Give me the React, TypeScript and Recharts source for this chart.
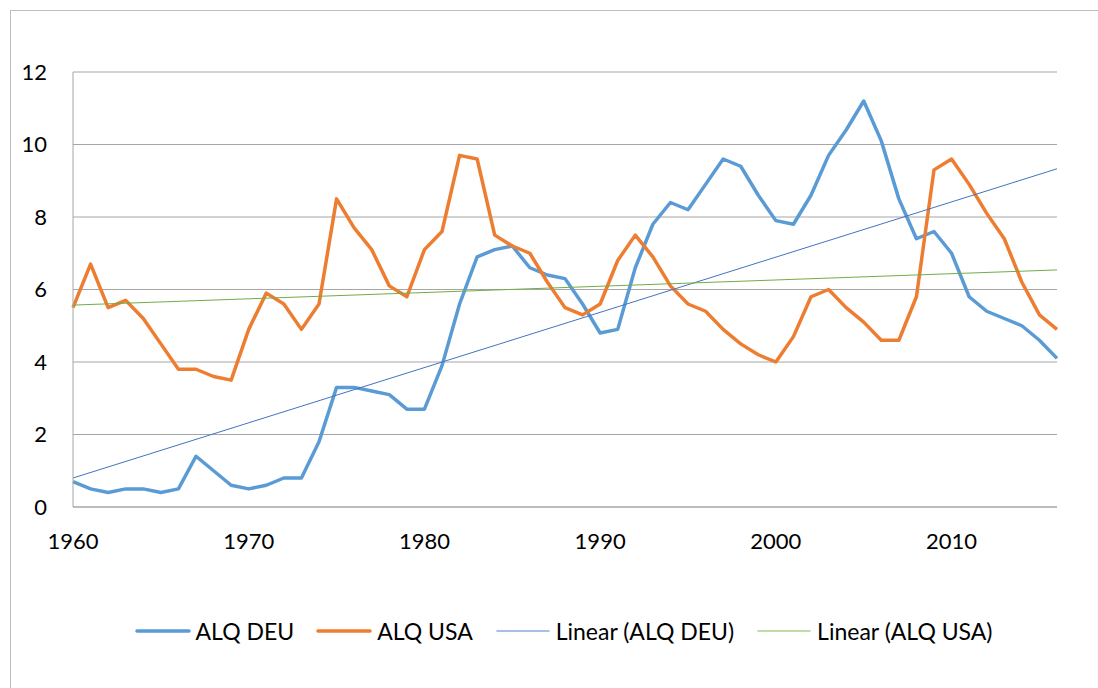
import React from 'react';
import { LineChart, Line, XAxis, YAxis, CartesianGrid, Legend } from 'recharts';

const years = [
  1960, 1961, 1962, 1963, 1964, 1965, 1966, 1967, 1968, 1969,
  1970, 1971, 1972, 1973, 1974, 1975, 1976, 1977, 1978, 1979,
  1980, 1981, 1982, 1983, 1984, 1985, 1986, 1987, 1988, 1989,
  1990, 1991, 1992, 1993, 1994, 1995, 1996, 1997, 1998, 1999,
  2000, 2001, 2002, 2003, 2004, 2005, 2006, 2007, 2008, 2009,
  2010, 2011, 2012, 2013, 2014, 2015, 2016,
];

const alqDeu = [
  0.7, 0.5, 0.4, 0.5, 0.5, 0.4, 0.5, 1.4, 1.0, 0.6,
  0.5, 0.6, 0.8, 0.8, 1.8, 3.3, 3.3, 3.2, 3.1, 2.7,
  2.7, 3.9, 5.6, 6.9, 7.1, 7.2, 6.6, 6.4, 6.3, 5.6,
  4.8, 4.9, 6.6, 7.8, 8.4, 8.2, 8.9, 9.6, 9.4, 8.6,
  7.9, 7.8, 8.6, 9.7, 10.4, 11.2, 10.1, 8.5, 7.4, 7.6,
  7.0, 5.8, 5.4, 5.2, 5.0, 4.6, 4.1,
];

const alqUsa = [
  5.5, 6.7, 5.5, 5.7, 5.2, 4.5, 3.8, 3.8, 3.6, 3.5,
  4.9, 5.9, 5.6, 4.9, 5.6, 8.5, 7.7, 7.1, 6.1, 5.8,
  7.1, 7.6, 9.7, 9.6, 7.5, 7.2, 7.0, 6.2, 5.5, 5.3,
  5.6, 6.8, 7.5, 6.9, 6.1, 5.6, 5.4, 4.9, 4.5, 4.2,
  4.0, 4.7, 5.8, 6.0, 5.5, 5.1, 4.6, 4.6, 5.8, 9.3,
  9.6, 8.9, 8.1, 7.4, 6.2, 5.3, 4.9,
];

// trend line end points
const trendYears = [1960, 2016];
const trendDeu = [0.8, 9.33];
const trendUsa = [5.57, 6.54];

const xTicks = [1960, 1970, 1980, 1990, 2000, 2010];
const yTicks = [0, 2, 4, 6, 8, 10, 12];

const data = years.map((year, i) => {
  const t = trendYears.indexOf(year);
  return {
    year,
    deu: alqDeu[i],
    usa: alqUsa[i],
    trendDeu: t >= 0 ? trendDeu[t] : null,
    trendUsa: t >= 0 ? trendUsa[t] : null,
  };
});

const FONT = 'Lato, "Open Sans", sans-serif';
const GRID = '#a6a6a6';

const legendItems = [
  { label: 'ALQ DEU', color: '#5b9bd5', width: 3.5 },
  { label: 'ALQ USA', color: '#ed7d31', width: 3.5 },
  { label: 'Linear (ALQ DEU)', color: '#8eaadb', width: 1.5 },
  { label: 'Linear (ALQ USA)', color: '#a9d18e', width: 1.5 },
];

const renderLegend = () => (
  <div
    style={{
      display: 'flex',
      justifyContent: 'center',
      alignItems: 'center',
      height: 40,
      paddingLeft: 70,
      paddingRight: 41,
      fontFamily: FONT,
      fontSize: 23,
      color: '#000',
    }}
  >
    {legendItems.map((item, i) => (
      <div
        key={item.label}
        style={{ display: 'flex', alignItems: 'center', marginRight: i < legendItems.length - 1 ? 22 : 0 }}
      >
        <svg width={56} height={10} style={{ marginRight: 5 }}>
          <line
            x1={2}
            y1={5}
            x2={54}
            y2={5}
            stroke={item.color}
            strokeWidth={item.width}
            strokeLinecap="round"
          />
        </svg>
        <span>{item.label}</span>
      </div>
    ))}
  </div>
);

export default function App() {
  return (
    <div style={{ position: 'fixed', left: 0, top: 0, width: 1098, height: 688, overflow: 'hidden', background: '#fff' }}>
      <div
        style={{
          position: 'absolute',
          left: 10,
          top: 10,
          width: 1300,
          height: 900,
          borderLeft: '1.5px solid #bfbfbf',
          borderTop: '1.5px solid #bfbfbf',
        }}
      />
      <div style={{ position: 'absolute', left: 0, top: 0 }}>
        <LineChart
          width={1098}
          height={688}
          data={data}
          margin={{ top: 72, right: 41, left: 0, bottom: 81 }}
        >
          <CartesianGrid horizontal vertical={false} stroke={GRID} strokeWidth={1} />
          <XAxis
            dataKey="year"
            type="number"
            domain={[1960, 2016]}
            ticks={xTicks}
            height={60}
            tickLine={false}
            tickSize={6}
            tickMargin={20}
            axisLine={{ stroke: GRID }}
            tick={{ fill: '#000', fontSize: 22, fontFamily: FONT }}
          />
          <YAxis
            domain={[0, 12]}
            ticks={yTicks}
            width={73}
            tickLine={false}
            tickSize={6}
            tickMargin={20}
            axisLine={{ stroke: GRID }}
            tick={{ fill: '#000', fontSize: 22, fontFamily: FONT }}
          />
          <Legend
            verticalAlign="bottom"
            content={renderLegend}
            wrapperStyle={{ top: 611, left: 0, width: 1098, height: 40 }}
          />
          <Line
            dataKey="deu"
            stroke="#5b9bd5"
            strokeWidth={3.5}
            dot={false}
            isAnimationActive={false}
            strokeLinejoin="round"
          />
          <Line
            dataKey="usa"
            stroke="#ed7d31"
            strokeWidth={3.5}
            dot={false}
            isAnimationActive={false}
            strokeLinejoin="round"
          />
          <Line
            dataKey="trendDeu"
            stroke="#4472c4"
            strokeWidth={1}
            dot={false}
            connectNulls
            isAnimationActive={false}
          />
          <Line
            dataKey="trendUsa"
            stroke="#70ad47"
            strokeWidth={1}
            dot={false}
            connectNulls
            isAnimationActive={false}
          />
        </LineChart>
      </div>
    </div>
  );
}
